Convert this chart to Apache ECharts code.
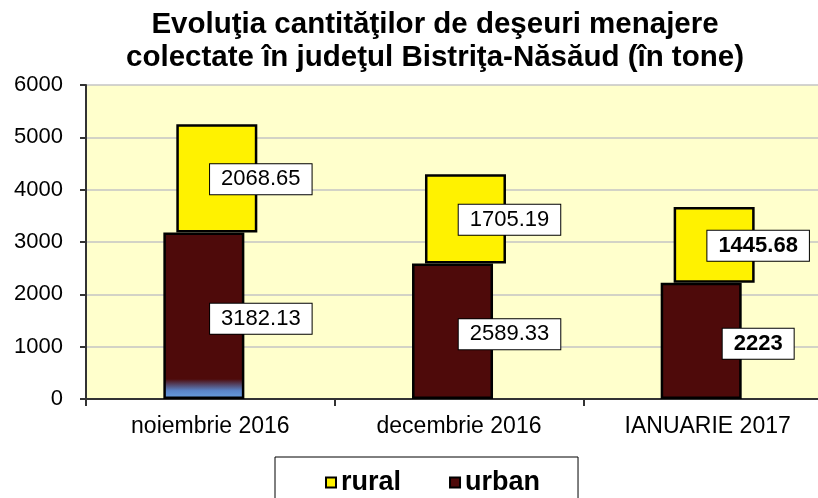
<!DOCTYPE html>
<html>
<head>
<meta charset="utf-8">
<script src="https://cdn.jsdelivr.net/npm/echarts@6/dist/echarts.min.js"></script>
<style>
  html, body { margin: 0; padding: 0; background: #fff; overflow: hidden; }
  #chart { width: 832px; height: 498px; }
</style>
</head>
<body>
<div id="chart"></div>
<script>
const categories = ['noiembrie 2016', 'decembrie 2016', 'IANUARIE 2017'];
const urban = [3182.13, 2589.33, 2223];
const rural = [2068.65, 1705.19, 1445.68];
const yTicks = { min: 0, max: 6000, interval: 1000 };
const boldLabel = [false, false, true];

const chart = echarts.init(document.getElementById('chart'));

const labelBox = {
    show: true,
    position: 'inside',
    color: '#000',
    fontFamily: 'Liberation Sans',
    fontSize: 22,
    backgroundColor: '#fff',
    borderColor: '#000',
    borderWidth: 1,
    padding: [5, 11, 3, 11]
};

// first urban bar fades to blue at its foot
const urbanFade = {
    type: 'linear', x: 0, y: 0, x2: 0, y2: 1,
    colorStops: [
        { offset: 0, color: '#4e0a0a' },
        { offset: 0.88, color: '#4e0a0a' },
        { offset: 0.95, color: '#5a84c8' },
        { offset: 1, color: '#6aa2e2' }
    ]
};

const urbanData = urban.map((v, i) => ({
    value: v,
    itemStyle: i === 0 ? { color: urbanFade } : undefined,
    label: { fontWeight: boldLabel[i] ? 'bold' : 'normal' }
}));
const ruralData = rural.map((v, i) => ({
    value: v,
    label: { fontWeight: boldLabel[i] ? 'bold' : 'normal' }
}));

const options = {
    animation: false,
    title: {
        text: 'Evoluţia cantităţilor de deşeuri menajere\ncolectate în judeţul Bistriţa-Năsăud (în tone)',
        left: 430,
        top: 3,
        textAlign: 'center',
        textStyle: {
            fontFamily: 'Liberation Sans',
            fontSize: 29.5,
            fontWeight: 'bold',
            color: '#000',
            lineHeight: 33
        }
    },
    legend: {
        data: ['rural', 'urban'],
        left: 275,
        top: 457,
        padding: [12, 38, 20, 50],
        itemGap: 48,
        itemWidth: 10,
        itemHeight: 10,
        icon: 'rect',
        borderColor: '#000',
        borderWidth: 1,
        textStyle: {
            fontFamily: 'Liberation Sans',
            fontSize: 27,
            fontWeight: 'bold',
            color: '#000',
            padding: [0, 0, 0, 0]
        }
    },
    grid: {
        left: 86,
        top: 85,
        right: 0,
        bottom: 99,
        show: true,
        backgroundColor: '#ffffcc',
        borderWidth: 0
    },
    xAxis: {
        type: 'category',
        data: categories,
        axisLine: { lineStyle: { color: '#333', width: 2 } },
        axisTick: { show: true, length: 7, interval: 0, lineStyle: { color: '#333', width: 2 } },
        axisLabel: {
            color: '#000',
            fontFamily: 'Liberation Sans',
            fontSize: 23,
            margin: 16
        }
    },
    yAxis: {
        type: 'value',
        min: yTicks.min,
        max: yTicks.max,
        interval: yTicks.interval,
        axisLine: { show: true, lineStyle: { color: '#333', width: 2 } },
        axisTick: { show: true, length: 6, lineStyle: { color: '#333', width: 2 } },
        splitLine: { lineStyle: { color: '#c4c4c4', width: 1.5 } },
        axisLabel: {
            color: '#000',
            fontFamily: 'Liberation Sans',
            fontSize: 22,
            margin: 23,
            formatter: (v) => String(v)
        }
    },
    series: [
        {
            name: 'urban',
            type: 'bar',
            stack: 'u',
            barWidth: 81,
            barGap: '-84%',
            data: urbanData,
            itemStyle: { color: '#4e0a0a', borderColor: '#000', borderWidth: 2.5 },
            label: Object.assign({}, labelBox, { offset: [57, 3] }),
            z: 3
        },
        {
            name: 'spacer',
            type: 'bar',
            stack: 'r',
            barWidth: 81,
            data: urban,
            itemStyle: { color: 'rgba(0,0,0,0)' },
            silent: true
        },
        {
            name: 'rural',
            type: 'bar',
            stack: 'r',
            barWidth: 81,
            data: ruralData,
            itemStyle: { color: '#fff200', borderColor: '#000', borderWidth: 2.5 },
            label: Object.assign({}, labelBox, { offset: [44, 1] }),
            z: 2
        }
    ]
};

chart.setOption(options);
</script>
</body>
</html>
